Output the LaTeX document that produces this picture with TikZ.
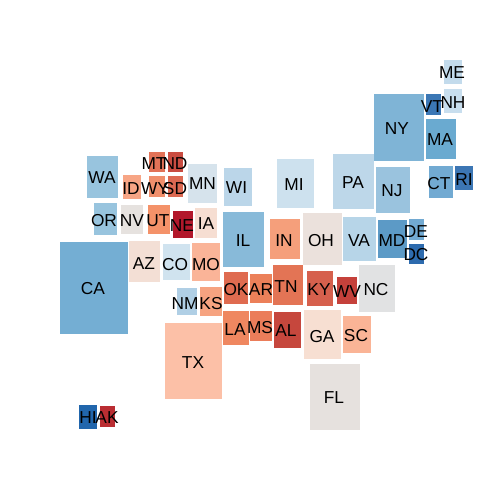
\documentclass[tikz,border=0pt]{standalone}
\usepackage{fontspec}
\setmainfont{Liberation Sans}
\tikzset{
  cell/.style={inner sep=0pt,outer sep=0pt,draw=none,anchor=north west},
  lab/.style={inner sep=0pt,outer sep=0pt,anchor=base,text=black,font=\fontsize{17.3}{17.3}\selectfont}
}
% name, x0, y0, x1, y1, colour, label x, label y
\newcommand{\stcell}[8]{%
  \definecolor{c#1}{HTML}{#6}%
  \pgfmathsetmacro{\cw}{#4-#2}\pgfmathsetmacro{\ch}{#5-#3}%
  \node[cell,fill=c#1,minimum width=\cw pt,minimum height=\ch pt] (r#1) at (#2,#3) {};%
  \expandafter\gdef\csname lab#1\endcsname{\node[lab] (t#1) at (#7,#8+6.2) {#1};}%
}
\begin{document}
\begin{tikzpicture}[x=1pt,y=-1pt]
\useasboundingbox (0,0) rectangle (504,504);
\stcell{CA}{60}{242}{128}{334}{74AED3}{93}{288}
\stcell{WA}{87}{156}{118}{198}{98C4DE}{102}{177}
\stcell{OR}{94}{203}{117}{235}{98C4DE}{104}{220}
\stcell{ID}{123}{175}{141}{199}{F7A585}{131}{188}
\stcell{MT}{149}{152}{165}{172}{E27257}{154}{163}
\stcell{ND}{168}{152}{183}{172}{C94C41}{175}{163}
\stcell{WY}{149}{176}{165}{197}{F08F6C}{155}{188}
\stcell{SD}{168}{176}{183}{197}{DC6952}{175}{188}
\stcell{MN}{188}{164}{217}{203}{D6E3EC}{202.5}{183.5}
\stcell{NV}{121}{205}{143}{234}{E6E2DF}{132}{220}
\stcell{UT}{148}{205}{170}{234}{F49269}{158}{220}
\stcell{NE}{173}{211}{193}{238}{B2182B}{182}{225}
\stcell{IA}{195}{208}{217}{238}{F6DED2}{206}{223.5}
\stcell{AZ}{129}{241}{160}{282}{F3DFD5}{144}{263}
\stcell{CO}{163}{244}{190}{280}{D0E3EF}{175}{264}
\stcell{MO}{192}{243}{220}{281}{FAB498}{206}{264}
\stcell{NM}{177}{288}{197}{315}{B0CFE5}{185}{303}
\stcell{KS}{200}{287}{222}{316}{F6A380}{211}{303}
\stcell{WI}{224}{168}{252}{206}{BBD6E9}{236.5}{187}
\stcell{MI}{277}{159}{314}{208}{CDE1EE}{294}{184}
\stcell{PA}{333}{154}{374}{209}{BDD7E9}{353}{182}
\stcell{IL}{223}{212}{264}{267}{88BAD9}{243}{240}
\stcell{IN}{270}{219}{300}{259}{F59F7B}{284}{240}
\stcell{OH}{303}{213}{342}{265}{EBE1DC}{321}{240}
\stcell{VA}{343}{217}{376}{261}{B7D5E8}{359}{240}
\stcell{OK}{224}{272}{248}{304}{DF6B50}{236}{289}
\stcell{AR}{250}{274}{272}{303}{EC8059}{261}{289}
\stcell{TN}{273}{265}{303}{305}{E37455}{286}{286}
\stcell{KY}{307}{271}{333}{306}{D6604D}{319}{289}
\stcell{WV}{337}{277}{357}{304}{C5413B}{347}{291}
\stcell{NC}{359}{265}{395}{312}{E1E2E3}{376}{289}
\stcell{LA}{223}{311}{249}{345}{EF8760}{235}{329}
\stcell{MS}{250}{311}{272}{341}{EB7D5A}{260}{327}
\stcell{AL}{274}{312}{301}{348}{C6473D}{286}{330}
\stcell{GA}{304}{310}{341}{359}{F7DFD2}{322}{336}
\stcell{SC}{343}{316}{371}{353}{FAB496}{356}{335}
\stcell{ME}{444}{60}{462}{84}{C3DBEC}{452}{72}
\stcell{NH}{444}{89}{462}{113}{C8DEEE}{453}{102}
\stcell{VT}{426}{94}{441}{115}{3B77B5}{432}{106}
\stcell{NY}{374}{94}{424}{161}{7FB4D6}{397}{128}
\stcell{MA}{426}{119}{456}{159}{6AAAD0}{440}{139}
\stcell{NJ}{376}{167}{410}{213}{9AC3DE}{392}{190}
\stcell{CT}{429}{166}{453}{198}{72AAD2}{439}{183}
\stcell{RI}{455}{166}{473}{190}{3C76B4}{464}{179}
\stcell{MD}{378}{220}{407}{258}{5C9AC6}{392}{240}
\stcell{DE}{409}{219}{424}{240}{72AAD2}{416}{231}
\stcell{DC}{409}{244}{424}{264}{2D6BAE}{416}{254}
\stcell{TX}{165}{323}{222}{399}{FCC0A7}{193}{362}
\stcell{FL}{310}{364}{360}{430}{E6E1DE}{334}{397}
\stcell{HI}{79}{405}{97}{429}{2166AC}{88}{417}
\stcell{AK}{100}{406}{115}{427}{BA2D32}{107}{417}
\foreach \s in {CA,WA,OR,ID,MT,ND,WY,SD,MN,NV,UT,NE,IA,AZ,CO,MO,NM,KS,WI,MI,PA,IL,IN,OH,VA,OK,AR,TN,KY,WV,NC,LA,MS,AL,GA,SC,ME,NH,VT,NY,MA,NJ,CT,RI,MD,DE,DC,TX,FL,HI,AK}{\csname lab\s\endcsname}
\end{tikzpicture}
\end{document}
